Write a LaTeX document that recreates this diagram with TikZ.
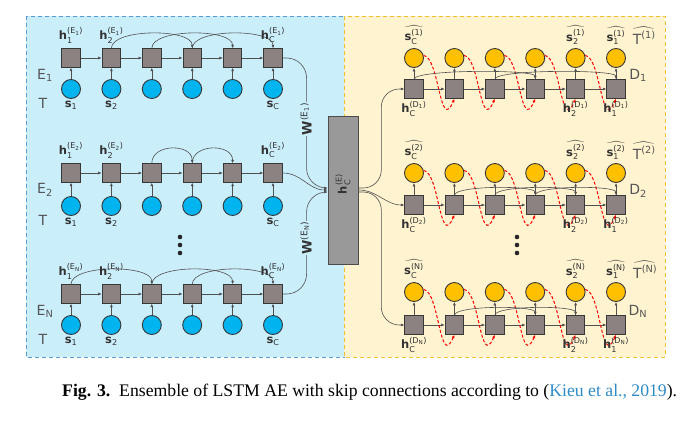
\documentclass[tikz,border=0pt]{standalone}
\usepackage{fontspec}
\usepackage{amsmath}
\setmainfont{DejaVu Sans}
\newfontfamily\capfont{Liberation Serif}
\usetikzlibrary{arrows.meta,positioning,calc}

\definecolor{encbg}{HTML}{CBEEFB}
\definecolor{decbg}{HTML}{FFF3D0}
\definecolor{encline}{HTML}{5B9BD5}
\definecolor{decline}{HTML}{F5C030}
\definecolor{cellgray}{HTML}{8C8282}
\definecolor{encdot}{HTML}{00B4F0}
\definecolor{decdot}{HTML}{FFC000}
\definecolor{linkgray}{HTML}{505050}
\definecolor{labgray}{HTML}{555555}
\definecolor{citeblue}{HTML}{2E8BC9}

\newcommand{\hlab}[3]{\textbf{h}$_{\text{#1}}^{\text{(#2$_{\text{#3}}$)}}$}
\newcommand{\slab}[1]{\textbf{s}$_{\text{#1}}$}
\newcommand{\shat}[2]{$\widehat{\text{\textbf{s}}_{\text{#1}}^{\text{(#2)}}}$}
\newcommand{\That}[1]{$\widehat{\text{T}^{\text{(#1)}}}$}
\newcommand{\rowlab}[2]{#1$_{\text{#2}}$}
\newcommand{\wlab}[1]{\textbf{W}$^{\text{(E$_{\text{#1}}$)}}$}

\begin{document}
\begin{tikzpicture}[x=1pt, y=1pt, >={Latex[length=3.5pt,width=3pt]},
  cell/.style={draw=black!78, fill=cellgray, line width=0.9pt, minimum size=18.5pt, inner sep=0pt},
  encin/.style={circle, draw=black!78, fill=encdot, line width=0.9pt, minimum size=19pt, inner sep=0pt},
  decout/.style={encin, fill=decdot},
  link/.style={->, draw=linkgray, line width=0.6pt},
  loopback/.style={->, draw=red, line width=1pt, dash pattern=on 3pt off 2pt},
  lab/.style={font=\fontsize{11.5}{13}\selectfont, text=black!80, inner sep=1pt},
  side/.style={font=\fontsize{14}{16}\selectfont, text=labgray, inner sep=0pt}]

\useasboundingbox (0,0) rectangle (696,-421);
\draw[encline, fill=encbg, line width=0.8pt, dash pattern=on 4pt off 3pt] (26,-16) rectangle (344,-357);
\draw[decline, fill=decbg, line width=0.8pt, dash pattern=on 4pt off 3pt] (344,-16) rectangle (665,-357);

\foreach \r/\y/\cy/\pairs in {1/58/89/{2/4,3/5,4/6}, 2/173/206/{3/4,4/5}, N/294/325/{1/3,3/5,4/6}} {
  \foreach \i in {1,...,6} {
    \node[cell] (e\r s\i) at ({71+40.4*(\i-1)},-\y) {};
    \node[encin] (e\r x\i) at ({71+40.4*(\i-1)},-\cy) {};
    \draw[link] (e\r x\i) -- (e\r s\i);
  }
  \foreach \i [evaluate=\i as \j using int(\i+1)] in {1,...,5}
    \draw[link] (e\r s\i) -- (e\r s\j);
  \foreach \a/\b in \pairs
    \draw[link] (e\r s\a.north) .. controls +(0,20) and +(0,20) .. (e\r s\b.north);
  \node[lab, above=4pt of e\r s1] (eh\r a) {\hlab{1}{E}{\r}};
  \node[lab, above=4pt of e\r s2] (eh\r b) {\hlab{2}{E}{\r}};
  \node[lab, above=4pt of e\r s6] (eh\r c) {\hlab{C}{E}{\r}};
  \node[lab, below=1pt of e\r x1] (es\r a) {\slab{1}};
  \node[lab, below=1pt of e\r x2] (es\r b) {\slab{2}};
  \node[lab, below=1pt of e\r x6] (es\r c) {\slab{C}};
  \node[side] (eE\r) at ([shift={(-26,-17)}]e\r s1) {\rowlab{E}{\r}};
  \node[side] (eT\r) at ([shift={(-28,-14)}]e\r x1) {T};
}

\foreach \r/\y/\cy/\pairs in {1/89/58/{1/4,3/6}, 2/205/173/{2/4,3/5,4/6}, N/325/292/{2/4,3/5}} {
  \foreach \i in {1,...,6} {
    \node[cell] (d\r s\i) at ({414+40.4*(\i-1)},-\y) {};
    \node[decout] (d\r x\i) at ({414+40.4*(\i-1)},-\cy) {};
    \draw[link] (d\r s\i) -- (d\r x\i);
  }
  \foreach \i [evaluate=\i as \j using int(\i+1)] in {1,...,5} {
    \draw[link] (d\r s\i) -- (d\r s\j);
    \draw[loopback] (d\r x\i.15) .. controls +(16,-2) and +(-15,-35) .. (d\r s\j.south);
  }
  \foreach \a/\b in \pairs
    \draw[link] (d\r s\a.north) .. controls +(0,10) and +(0,10) .. (d\r s\b.north);
  \node[lab, above=2pt of d\r x1] (ds\r a) {\shat{C}{\r}};
  \node[lab, above=2pt of d\r x5] (ds\r b) {\shat{2}{\r}};
  \node[lab, above=2pt of d\r x6] (ds\r c) {\shat{1}{\r}};
  \node[side, right=6pt of ds\r c] (dT\r) {\That{\r}};
  \node[lab, below=1pt of d\r s1] (dh\r a) {\hlab{C}{D}{\r}};
  \node[lab, below=1pt of d\r s5] (dh\r b) {\hlab{2}{D}{\r}};
  \node[lab, below=1pt of d\r s6] (dh\r c) {\hlab{1}{D}{\r}};
  \node[side] (dD\r) at ([shift={(22,14)}]d\r s6) {\rowlab{D}{\r}};
}

\node[draw=black!70, fill=black!40, line width=0.9pt, minimum width=30pt, minimum height=148pt, inner sep=0pt] (bar) at (343,-190) {};
\node[lab, rotate=90] (hc) at ([shift={(0,6)}]bar) {\textbf{h}$_{\text{C}}^{\text{(E)}}$};

\draw[link, rounded corners=20pt] (e1s6.east) -| ($(bar.west)+(-21,2)$) -- ($(bar.west)+(0,2)$);
\draw[link] (e2s6.east) to[out=0,in=180] (bar.west);
\draw[link, rounded corners=20pt] (eNs6.east) -| ($(bar.west)+(-21,-2)$) -- ($(bar.west)+(0,-2)$);
\node[lab, rotate=90, fill=encbg, font=\fontsize{13}{14}\selectfont] (w1) at (306,-119) {\wlab{1}};
\node[lab, rotate=90, fill=encbg, font=\fontsize{13}{14}\selectfont] (wN) at (306,-238) {\wlab{N}};

\draw[link, rounded corners=18pt] ($(bar.east)+(0,2)$) -| ($(d1s1.west)+(-23,0)$) -- (d1s1.west);
\draw[link] (bar.east) to[out=0,in=180] (d2s1.west);
\draw[link, rounded corners=18pt] ($(bar.east)+(0,-2)$) -| ($(dNs1.west)+(-23,0)$) -- (dNs1.west);

\foreach \px in {180,517}
  \foreach \py in {237,245,253}
    \fill[black!85] (\px,-\py) circle (2.3pt);

\node[anchor=west, inner sep=0pt, font=\capfont\fontsize{17.7}{19}\selectfont] (cap) at (62,-392)
  {\textbf{Fig. 3.}\ \ Ensemble of LSTM AE with skip connections according to (\textcolor{citeblue}{Kieu et al., 2019}).};
\end{tikzpicture}
\end{document}
